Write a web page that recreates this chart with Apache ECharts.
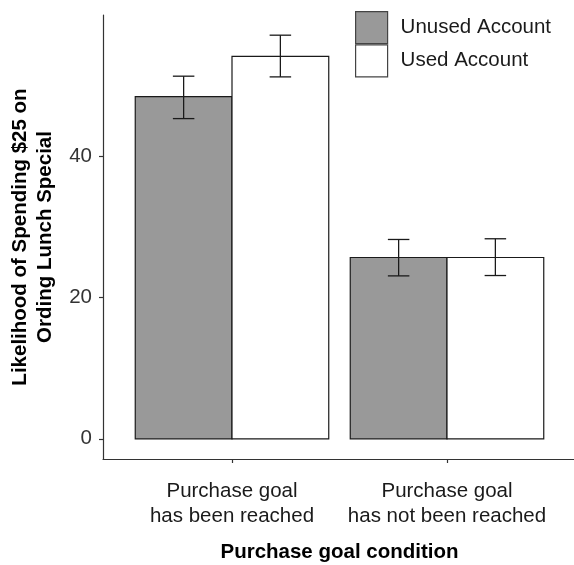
<!DOCTYPE html>
<html>
<head>
<meta charset="utf-8">
<script src="https://cdn.jsdelivr.net/npm/echarts@6/dist/echarts.min.js"></script>
<style>html,body{margin:0;padding:0;background:#fff}#c{width:574px;height:565px}</style>
</head>
<body>
<div id="c"></div>
<script>
const categories = ['Purchase goal\nhas been reached', 'Purchase goal\nhas not been reached'];
const seriesNames = ['Unused Account', 'Used Account'];
const unusedMean = [48.4, 25.65];
const unusedLower = [45.3, 23.05];
const unusedUpper = [51.3, 28.2];
const usedMean = [54.1, 25.65];
const usedLower = [51.2, 23.1];
const usedUpper = [57.1, 28.3];
const yTicks = [0, 20, 40];
const xTicks = [1, 2];

const FONT = 'Liberation Sans';
const BAR_HALF = 0.225;
const CAP_HALF = 0.05;

function rows(mean, lo, hi) {
  return mean.map((m, i) => [i + 1, m, lo[i], hi[i]]);
}

function makeRender(offset, fill) {
  return function (params, api) {
    const x = api.value(0) + offset;
    const m = api.value(1), lo = api.value(2), hi = api.value(3);
    const p0 = api.coord([x - BAR_HALF, m]);
    const p1 = api.coord([x + BAR_HALF, 0]);
    const t = api.coord([x, hi]);
    const b = api.coord([x, lo]);
    const cl = api.coord([x - CAP_HALF, hi])[0];
    const cr = api.coord([x + CAP_HALF, hi])[0];
    const errStyle = { stroke: '#1a1a1a', lineWidth: 1.3, fill: null };
    return {
      type: 'group',
      children: [
        { type: 'rect', shape: { x: p0[0], y: p0[1], width: p1[0] - p0[0], height: p1[1] - p0[1] },
          style: { fill: fill, stroke: '#1a1a1a', lineWidth: 1.2 } },
        { type: 'line', shape: { x1: t[0], y1: t[1], x2: b[0], y2: b[1] }, style: errStyle },
        { type: 'line', shape: { x1: cl, y1: t[1], x2: cr, y2: t[1] }, style: errStyle },
        { type: 'line', shape: { x1: cl, y1: b[1], x2: cr, y2: b[1] }, style: errStyle }
      ]
    };
  };
}

const chart = echarts.init(document.getElementById('c'), null, { renderer: 'canvas' });
chart.setOption({
  animation: false,
  backgroundColor: '#fff',
  grid: { left: 103, top: 15, width: 473, bottom: 106, containLabel: false, outerBoundsMode: 'none' },
  legend: {
    orient: 'vertical', left: 355, top: 11, padding: 0, itemWidth: 32, itemHeight: 32, itemGap: 0,
    selectedMode: false,
    textStyle: { fontFamily: FONT, fontSize: 20.5, color: '#1a1a1a', padding: [0, 0, 0, 8] },
    data: [
      { name: seriesNames[0], icon: 'rect', itemStyle: { color: '#999999', borderColor: '#444', borderWidth: 1.2 } },
      { name: seriesNames[1], icon: 'rect', itemStyle: { color: '#ffffff', borderColor: '#444', borderWidth: 1.2 } }
    ]
  },
  xAxis: {
    type: 'value', min: 0.4, max: 2.6,
    name: 'Purchase goal condition', nameLocation: 'middle', nameGap: 83,
    nameTextStyle: { fontFamily: FONT, fontSize: 20.5, fontWeight: 'bold', color: '#000' },
    axisLine: { show: true, onZero: false, lineStyle: { color: '#333', width: 1.2 } },
    axisTick: { show: true, length: 4, customValues: xTicks, lineStyle: { color: '#333', width: 1.2 } },
    axisLabel: {
      customValues: xTicks, margin: 20,
      formatter: v => categories[Math.round(v) - 1] || '',
      fontFamily: FONT, fontSize: 20.5, lineHeight: 25, color: '#1a1a1a', align: 'center'
    },
    splitLine: { show: false }
  },
  yAxis: {
    type: 'value', min: -2.855, max: 59.955,
    name: 'Likelihood of Spending $25 on\nOrding Lunch Special', nameLocation: 'middle', nameGap: 44, nameRotate: 90,
    nameTextStyle: { fontFamily: FONT, fontSize: 20.5, fontWeight: 'bold', color: '#000', lineHeight: 25, align: 'center' },
    axisLine: { show: true, onZero: false, lineStyle: { color: '#333', width: 1.2 } },
    axisTick: { show: true, length: 4, customValues: yTicks, lineStyle: { color: '#333', width: 1.2 } },
    axisLabel: { customValues: yTicks, margin: 11, fontFamily: FONT, fontSize: 20.5, color: '#333' },
    splitLine: { show: false }
  },
  series: [
    { name: seriesNames[0], type: 'custom', itemStyle: { color: '#999999' },
      renderItem: makeRender(-BAR_HALF, '#999999'), encode: { x: 0, y: [1, 2, 3] },
      data: rows(unusedMean, unusedLower, unusedUpper) },
    { name: seriesNames[1], type: 'custom', itemStyle: { color: '#ffffff' },
      renderItem: makeRender(BAR_HALF, '#ffffff'), encode: { x: 0, y: [1, 2, 3] },
      data: rows(usedMean, usedLower, usedUpper) }
  ]
});
</script>
</body>
</html>
